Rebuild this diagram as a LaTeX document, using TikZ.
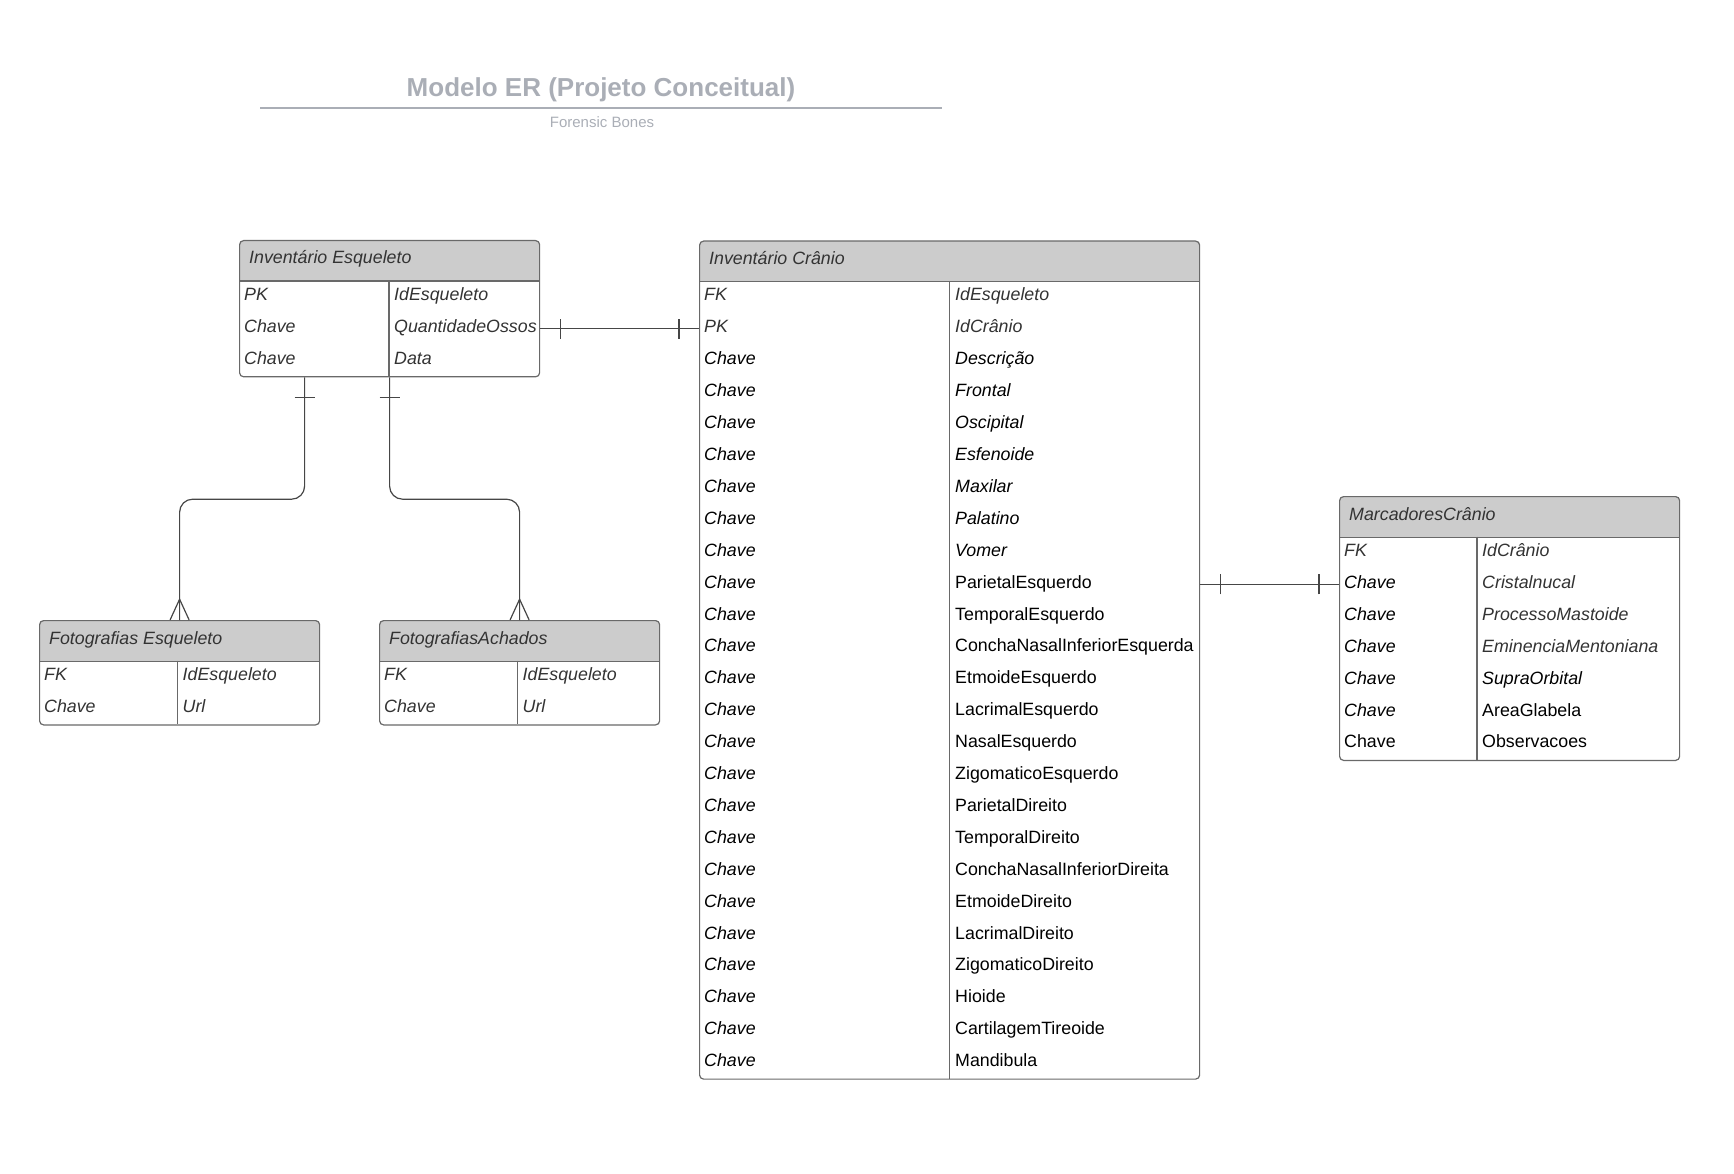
\documentclass[tikz,border=0pt]{standalone}
\usepackage{fontspec}
\setmainfont{Liberation Sans}
\usetikzlibrary{decorations.markings}

\definecolor{titlegray}{RGB}{170,174,182}
\definecolor{headgray}{RGB}{204,204,204}
\definecolor{boxgray}{RGB}{105,105,105}
\definecolor{linkgray}{RGB}{70,70,70}
\definecolor{textgray}{RGB}{51,51,51}

\newcommand{\rowfont}{\fontsize{17.8}{20}\selectfont}

\tikzset{
  ent/.style={draw=boxgray, line width=1.2pt, rounded corners=4pt, fill=white, inner sep=0pt, anchor=north west,
    path picture={
      \fill[headgray, sharp corners] (path picture bounding box.north west) rectangle ([yshift=-40.5pt]path picture bounding box.north east);
      \draw[boxgray, line width=1.2pt, sharp corners] ([yshift=-40.5pt]path picture bounding box.north west) -- ([yshift=-40.5pt]path picture bounding box.north east);
    }},
  hd/.style={anchor=base west, inner sep=0pt, text=textgray, font=\rowfont\itshape},
  fg/.style={anchor=base west, inner sep=0pt, text=textgray, font=\rowfont\itshape},
  fk/.style={anchor=base west, inner sep=0pt, text=black, font=\rowfont\itshape},
  fn/.style={anchor=base west, inner sep=0pt, text=black, font=\rowfont},
  div/.style={draw=boxgray, line width=1.2pt},
  link/.style={draw=linkgray, line width=1.2pt, rounded corners=13pt},
  oneone/.style={postaction={decorate, decoration={markings,
    mark=at position 20pt with {\draw[linkgray, line width=1.2pt] (0,-10pt) -- (0,10pt);},
    mark=at position -20pt with {\draw[linkgray, line width=1.2pt] (0,-10pt) -- (0,10pt);}}}},
  onemany/.style={postaction={decorate, decoration={markings,
    mark=at position 20pt with {\draw[linkgray, line width=1.2pt] (0,-10pt) -- (0,10pt);},
    mark=at position -0.1pt with {\draw[linkgray, line width=1.2pt, sharp corners] (0,9.5pt) -- (-20.7pt,0) -- (0,-9.5pt);}}}}
}

\begin{document}
\begin{tikzpicture}[x=1pt, y=-1pt,
  ttl/.style={anchor=base, inner sep=0pt, text=titlegray, font=\fontsize{26}{30}\selectfont\bfseries},
  sub/.style={anchor=base, inner sep=0pt, text=titlegray, font=\fontsize{15}{18}\selectfont},
  rule/.style={draw=titlegray, line width=2pt}]
\useasboundingbox (0,0) rectangle (1734,1174);

% title
\node[ttl] (ttl) at (601,96.7) {Modelo ER (Projeto Conceitual)};
\draw[rule] (260,107.7) -- (942,107.7);
\node[sub] (sub) at (602,127.7) {Forensic Bones};

% tables
\node[ent, minimum width=300pt, minimum height=136.2pt] (esq) at (239,240) {};
\node[ent, minimum width=500pt, minimum height=838pt] (cra) at (699,240.5) {};
\node[ent, minimum width=340pt, minimum height=263.8pt] (mar) at (1339,496) {};
\node[ent, minimum width=280pt, minimum height=104.3pt] (fes) at (39,620) {};
\node[ent, minimum width=280pt, minimum height=104.3pt] (fac) at (379,620) {};

\draw[div] (389,280.5) -- (389,376.2);
\draw[div] (949.5,281) -- (949.5,1078.5);
\draw[div] (1477,536.5) -- (1477,759.8);
\draw[div] (177.5,660.5) -- (177.5,724.3);
\draw[div] (517.5,660.5) -- (517.5,724.3);

\node[hd] (esqh) at (249,264) {Inventário Esqueleto};
\node[hd] (crah) at (709,264.5) {Inventário Crânio};
\node[hd] (marh) at (1349,520) {MarcadoresCrânio};
\node[hd] (fesh) at (49,644) {Fotografias Esqueleto};
\node[hd] (fach) at (389,644) {FotografiasAchados};

% Inventario Esqueleto
\node[fg] (e1) at (244,300.5) {PK};
\node[fg] (e1v) at (394,300.5) {IdEsqueleto};
\node[fg] (e2) at (244,332.4) {Chave};
\node[fg] (e2v) at (394,332.4) {QuantidadeOssos};
\node[fg] (e3) at (244,364.3) {Chave};
\node[fg] (e3v) at (394,364.3) {Data};

% Inventario Cranio
\node[fg] (c1) at (704,301.0) {FK};
\node[fg] (c1v) at (955,301.0) {IdEsqueleto};
\node[fg] (c2) at (704,332.9) {PK};
\node[fg] (c2v) at (955,332.9) {IdCrânio};
\node[fk] (c3) at (704,364.8) {Chave};
\node[fk] (c3v) at (955,364.8) {Descrição};
\node[fk] (c4) at (704,396.7) {Chave};
\node[fk] (c4v) at (955,396.7) {Frontal};
\node[fk] (c5) at (704,428.6) {Chave};
\node[fk] (c5v) at (955,428.6) {Oscipital};
\node[fk] (c6) at (704,460.5) {Chave};
\node[fk] (c6v) at (955,460.5) {Esfenoide};
\node[fk] (c7) at (704,492.4) {Chave};
\node[fk] (c7v) at (955,492.4) {Maxilar};
\node[fk] (c8) at (704,524.3) {Chave};
\node[fk] (c8v) at (955,524.3) {Palatino};
\node[fk] (c9) at (704,556.2) {Chave};
\node[fk] (c9v) at (955,556.2) {Vomer};
\node[fk] (c10) at (704,588.1) {Chave};
\node[fn] (c10v) at (955,588.1) {ParietalEsquerdo};
\node[fk] (c11) at (704,620.0) {Chave};
\node[fn] (c11v) at (955,620.0) {TemporalEsquerdo};
\node[fk] (c12) at (704,651.9) {Chave};
\node[fn] (c12v) at (955,651.9) {ConchaNasalInferiorEsquerda};
\node[fk] (c13) at (704,683.8) {Chave};
\node[fn] (c13v) at (955,683.8) {EtmoideEsquerdo};
\node[fk] (c14) at (704,715.7) {Chave};
\node[fn] (c14v) at (955,715.7) {LacrimalEsquerdo};
\node[fk] (c15) at (704,747.6) {Chave};
\node[fn] (c15v) at (955,747.6) {NasalEsquerdo};
\node[fk] (c16) at (704,779.5) {Chave};
\node[fn] (c16v) at (955,779.5) {ZigomaticoEsquerdo};
\node[fk] (c17) at (704,811.4) {Chave};
\node[fn] (c17v) at (955,811.4) {ParietalDireito};
\node[fk] (c18) at (704,843.3) {Chave};
\node[fn] (c18v) at (955,843.3) {TemporalDireito};
\node[fk] (c19) at (704,875.2) {Chave};
\node[fn] (c19v) at (955,875.2) {ConchaNasalInferiorDireita};
\node[fk] (c20) at (704,907.1) {Chave};
\node[fn] (c20v) at (955,907.1) {EtmoideDireito};
\node[fk] (c21) at (704,939.0) {Chave};
\node[fn] (c21v) at (955,939.0) {LacrimalDireito};
\node[fk] (c22) at (704,970.9) {Chave};
\node[fn] (c22v) at (955,970.9) {ZigomaticoDireito};
\node[fk] (c23) at (704,1002.8) {Chave};
\node[fn] (c23v) at (955,1002.8) {Hioide};
\node[fk] (c24) at (704,1034.7) {Chave};
\node[fn] (c24v) at (955,1034.7) {CartilagemTireoide};
\node[fk] (c25) at (704,1066.6) {Chave};
\node[fn] (c25v) at (955,1066.6) {Mandibula};

% MarcadoresCranio
\node[fg] (m1) at (1344,556.5) {FK};
\node[fg] (m1v) at (1482,556.5) {IdCrânio};
\node[fk] (m2) at (1344,588.4) {Chave};
\node[fg] (m2v) at (1482,588.4) {Cristalnucal};
\node[fk] (m3) at (1344,620.3) {Chave};
\node[fg] (m3v) at (1482,620.3) {ProcessoMastoide};
\node[fk] (m4) at (1344,652.2) {Chave};
\node[fg] (m4v) at (1482,652.2) {EminenciaMentoniana};
\node[fk] (m5) at (1344,684.1) {Chave};
\node[fk] (m5v) at (1482,684.1) {SupraOrbital};
\node[fk] (m6) at (1344,716.0) {Chave};
\node[fn] (m6v) at (1482,716.0) {AreaGlabela};
\node[fn] (m7) at (1344,747.9) {Chave};
\node[fn] (m7v) at (1482,747.9) {Observacoes};

% Fotografias
\node[fg] (f1) at (44,680.5) {FK};
\node[fg] (f1v) at (182.5,680.5) {IdEsqueleto};
\node[fg] (f2) at (44,712.4) {Chave};
\node[fg] (f2v) at (182.5,712.4) {Url};
\node[fg] (a1) at (384,680.5) {FK};
\node[fg] (a1v) at (522.5,680.5) {IdEsqueleto};
\node[fg] (a2) at (384,712.4) {Chave};
\node[fg] (a2v) at (522.5,712.4) {Url};

% relations
\draw[link, oneone] (esq.east |- 0,328.5) -- (cra.west |- 0,328.5);
\draw[link, oneone] (cra.east |- 0,584.3) -- (mar.west |- 0,584.3);
\draw[link, onemany] ([xshift=-85pt]esq.south) -- ++(0,121.8) -| (fes.north);
\draw[link, onemany] (esq.south) -- ++(0,121.8) -| (fac.north);
\end{tikzpicture}
\end{document}
